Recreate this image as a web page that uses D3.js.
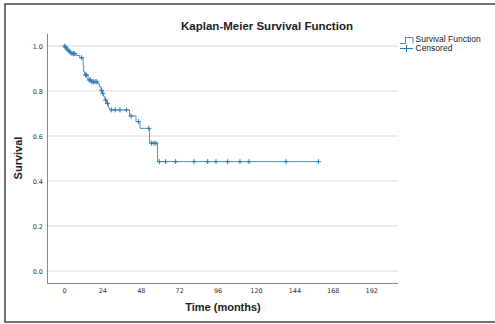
<!DOCTYPE html>
<html>
<head>
<meta charset="utf-8">
<script src="https://cdn.jsdelivr.net/npm/d3@7"></script>
<style>
  html, body { margin: 0; padding: 0; background: #fff; }
  svg { display: block; font-family: "Liberation Sans", Arial, sans-serif; }
</style>
</head>
<body>
<svg id="chart" width="495" height="324"></svg>
<script>
// ---- data ----
const stepTimes    = [0, 0.8, 1.6, 2.5, 3.5, 4.5, 7.5, 9.8, 12, 12.3, 13, 15, 17, 21, 22.3, 23.2, 24, 24.8, 25.6, 26.7, 27.7, 28.7, 41, 45, 47.5, 53.5, 58.5];
const stepSurvival = [1.0, 0.993, 0.986, 0.979, 0.972, 0.966, 0.958, 0.948, 0.915, 0.886, 0.871, 0.849, 0.841, 0.833, 0.818, 0.803, 0.79, 0.775, 0.76, 0.745, 0.725, 0.716, 0.689, 0.664, 0.634, 0.568, 0.486];
const lastFollowUp = 159;
const censorTimes  = [0.5, 1.2, 2, 3, 4, 5, 6, 6.8, 11, 13.5, 14, 15.8, 16.5, 17.5, 18.5, 19.5, 20.5, 23.5, 24.3, 26, 27.2, 29.8, 32, 35, 39, 42, 46.5, 53, 54.8, 56.2, 57.5, 59.6, 63.5, 69.8, 81.3, 89.8, 95, 102.3, 110, 115.6, 138.8, 159];
const xTicks = [0, 24, 48, 72, 96, 120, 144, 168, 192];
const yTicks = [0, 0.2, 0.4, 0.6, 0.8, 1.0];
const titleText = "Kaplan-Meier Survival Function";
const xLabel = "Time (months)";
const yLabel = "Survival";
const legendLabels = ["Survival Function", "Censored"];

// ---- drawing ----
const svg = d3.select("#chart");
const lineColor = "#4a90c6";
const markColor = "#2f7ab4";

// outer frame
svg.append("rect").attr("x", 5).attr("y", 4).attr("width", 500).attr("height", 318)
  .attr("fill", "none").attr("stroke", "#444").attr("stroke-width", 1.5);

const x = d3.scaleLinear().domain([-10.6, 208.75]).range([47, 398]);
const y = d3.scaleLinear().domain([0, 1]).range([271, 46]);

// gridlines
svg.append("g").selectAll("line").data(yTicks).join("line")
  .attr("x1", 47).attr("x2", 398)
  .attr("y1", d => y(d)).attr("y2", d => y(d))
  .attr("stroke", "#d9d9d9").attr("stroke-width", 1);

// axes
const yAxis = d3.axisLeft(y).tickValues(yTicks).tickFormat(d3.format(".1f")).tickSize(0).tickPadding(4);
const gy = svg.append("g").attr("transform", "translate(47,0)").call(yAxis);
gy.select(".domain").remove();
gy.selectAll("text").attr("font-size", 7).attr("fill", "#333").attr("font-family", "DejaVu Sans, sans-serif").attr("font-size", 6.5);
svg.append("line").attr("x1", 47.5).attr("x2", 47.5).attr("y1", 34).attr("y2", 283.5)
  .attr("stroke", "#888").attr("stroke-width", 1);

const xAxis = d3.axisBottom(x).tickValues(xTicks).tickSize(0).tickPadding(5);
const gx = svg.append("g").attr("transform", "translate(0,283)").call(xAxis);
gx.select(".domain").remove();
gx.selectAll("text").attr("fill", "#333").attr("font-family", "DejaVu Sans, sans-serif").attr("font-size", 6.5);
svg.append("line").attr("x1", 47).attr("x2", 398).attr("y1", 283.5).attr("y2", 283.5)
  .attr("stroke", "#888").attr("stroke-width", 1);

// survival step curve
const pts = stepTimes.map((t, i) => [t, stepSurvival[i]]);
pts.push([lastFollowUp, stepSurvival[stepSurvival.length - 1]]);
const line = d3.line().x(d => x(d[0])).y(d => y(d[1])).curve(d3.curveStepAfter);
svg.append("path").datum(pts).attr("d", line)
  .attr("fill", "none").attr("stroke", lineColor).attr("stroke-width", 1);

// censored marks
function survAt(t) {
  let s = 1;
  for (let i = 0; i < stepTimes.length; i++) if (stepTimes[i] <= t) s = stepSurvival[i];
  return s;
}
svg.append("g").selectAll("path").data(censorTimes).join("path")
  .attr("d", d => {
    const cx = x(d), cy = y(survAt(d));
    return `M${cx - 2.5},${cy}H${cx + 2.5}M${cx},${cy - 2.5}V${cy + 2.5}`;
  })
  .attr("stroke", markColor).attr("stroke-width", 1).attr("fill", "none");

// title & labels
svg.append("text").attr("x", 267).attr("y", 30).attr("text-anchor", "middle")
  .attr("font-size", 11.5).attr("font-weight", "bold").attr("fill", "#222").text(titleText);
svg.append("text").attr("x", 223).attr("y", 311).attr("text-anchor", "middle")
  .attr("font-size", 11).attr("font-weight", "bold").attr("fill", "#222").text(xLabel);
svg.append("text").attr("transform", "translate(22,158) rotate(-90)").attr("text-anchor", "middle")
  .attr("font-size", 11).attr("font-weight", "bold").attr("fill", "#222").text(yLabel);

// legend
const lg = svg.append("g");
lg.append("path").attr("d", "M400,43.5H405.5V37.5H413V43.5")
  .attr("fill", "none").attr("stroke", lineColor).attr("stroke-width", 1);
lg.append("path").attr("d", "M400,48.5H413M406.5,45V52")
  .attr("fill", "none").attr("stroke", markColor).attr("stroke-width", 1);
lg.selectAll("text").data(legendLabels).join("text")
  .attr("x", 415.5).attr("y", (d, i) => 42 + i * 9)
  .attr("font-size", 8.5).attr("fill", "#222").text(d => d);
</script>
</body>
</html>
